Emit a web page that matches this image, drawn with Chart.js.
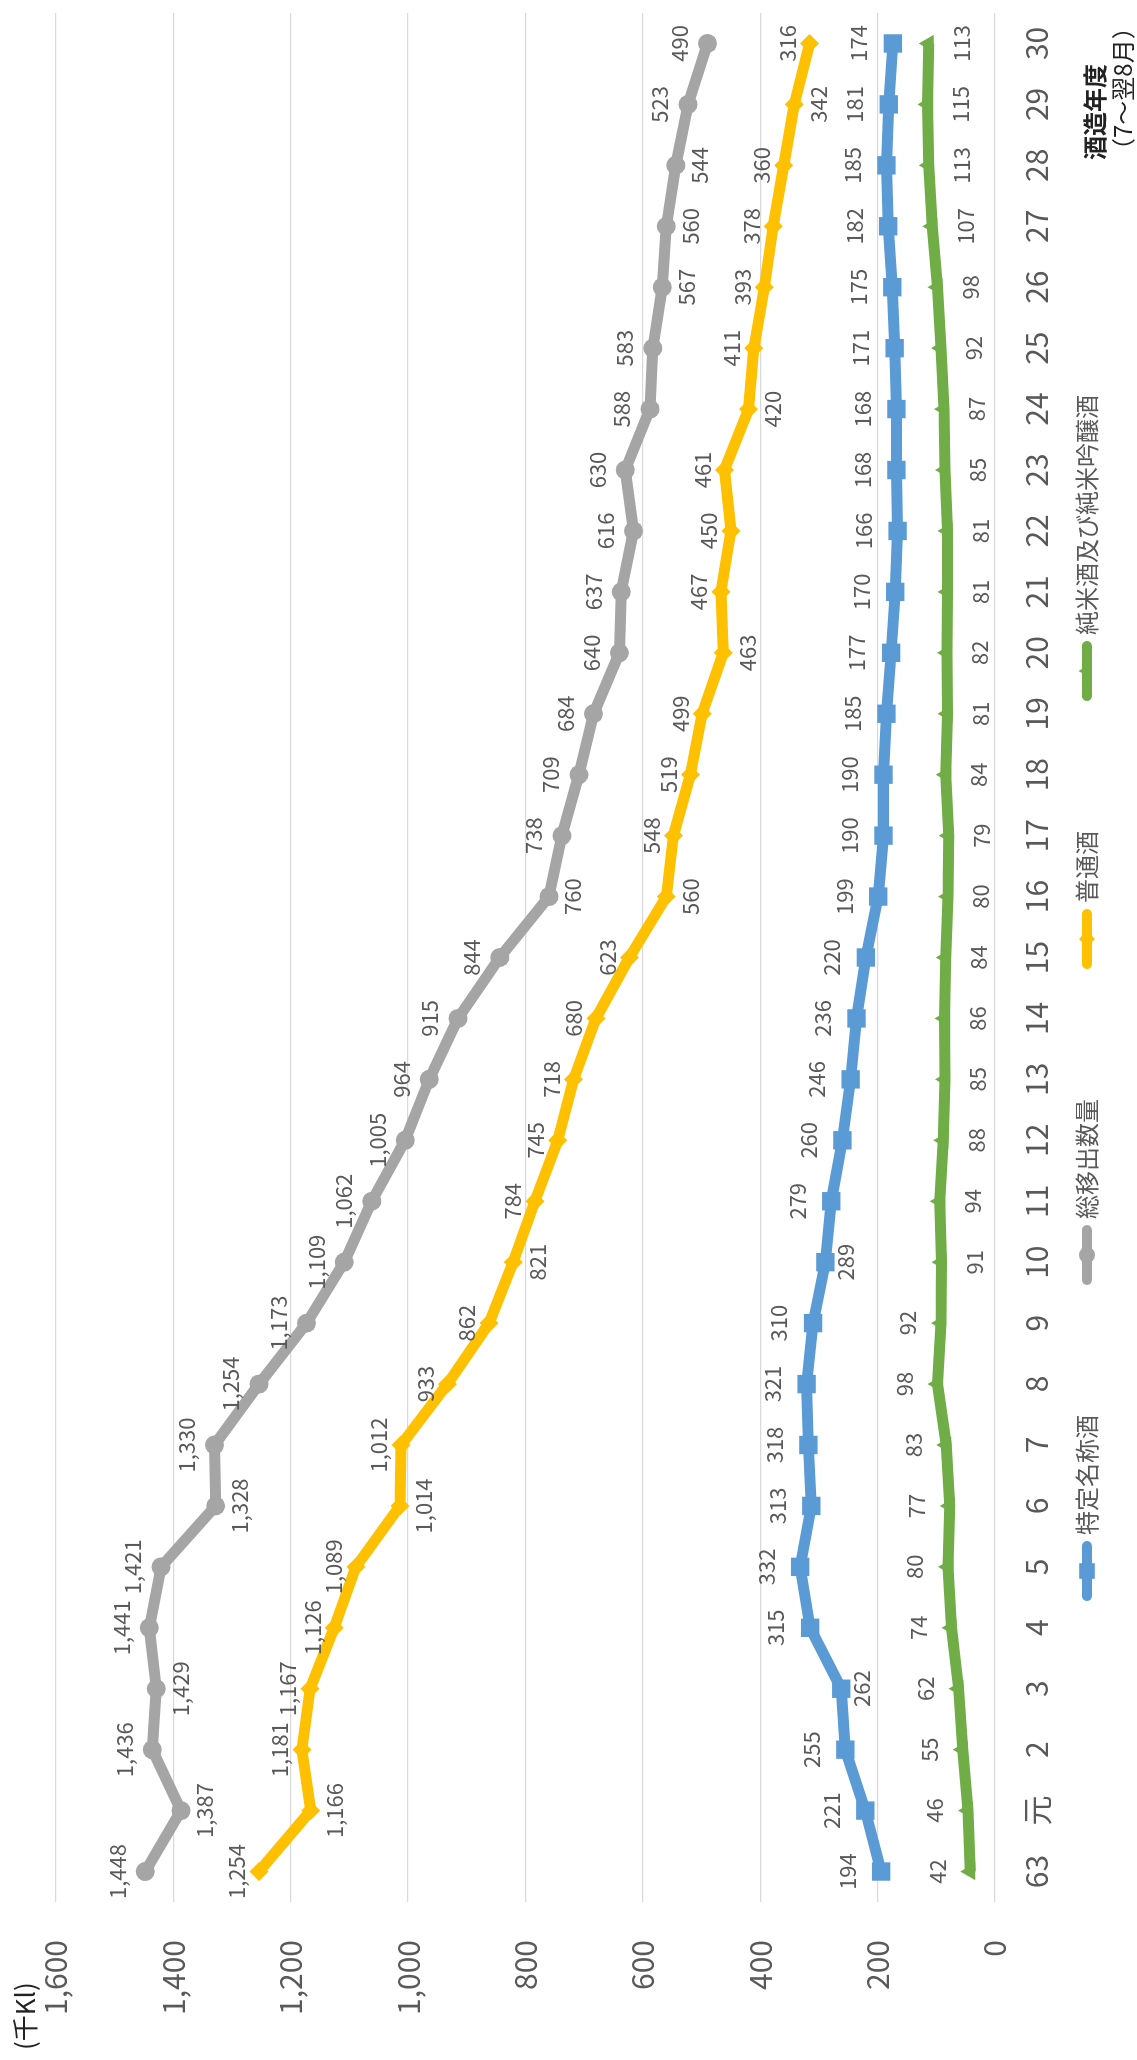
<!DOCTYPE html>
<html lang="ja">
<head>
<meta charset="utf-8">
<title>清酒の移出数量の推移</title>
<script src="https://cdn.jsdelivr.net/npm/chart.js@4.4.1/dist/chart.umd.min.js"></script>
<style>
  html, body { margin: 0; padding: 0; background: #fff; overflow: hidden; }
  /* the chart is drawn landscape and turned a quarter to the left */
  #wrap {
    position: absolute; left: 0; top: 0;
    width: 2060px; height: 1137px;
    transform-origin: 0 0;
    transform: translate(0, 2060px) rotate(-90deg);
  }
</style>
</head>
<body>
<div id="wrap"><canvas id="chart" width="2060" height="1137"></canvas></div>
<script>
// 酒造年度 (昭和63 ～ 平成30)
const years = ['63', '元', '2', '3', '4', '5', '6', '7', '8', '9', '10', '11', '12', '13', '14', '15',
  '16', '17', '18', '19', '20', '21', '22', '23', '24', '25', '26', '27', '28', '29', '30'];

// 千Kl
const tokutei = [194, 221, 255, 262, 315, 332, 313, 318, 321, 310, 289, 279, 260, 246, 236, 220,
  199, 190, 190, 185, 177, 170, 166, 168, 168, 171, 175, 182, 185, 181, 174];
const total = [1448, 1387, 1436, 1429, 1441, 1421, 1328, 1330, 1254, 1173, 1109, 1062, 1005, 964, 915, 844,
  760, 738, 709, 684, 640, 637, 616, 630, 588, 583, 567, 560, 544, 523, 490];
const futsu = [1254, 1166, 1181, 1167, 1126, 1089, 1014, 1012, 933, 862, 821, 784, 745, 718, 680, 623,
  560, 548, 519, 499, 463, 467, 450, 461, 420, 411, 393, 378, 360, 342, 316];
const junmai = [42, 46, 55, 62, 74, 80, 77, 83, 98, 92, 91, 94, 88, 85, 86, 84,
  80, 79, 84, 81, 82, 81, 81, 85, 87, 92, 98, 107, 113, 115, 113];

// which side of the point each value label sits on (a = above, b = below)
const tokuteiSides = 'aaabaaaaaabaaaaaaaaaaaaaaaaaaaa'.split('');
const totalSides   = 'ababaabaaaaaaaaabaaaaaaaaabbbaa'.split('');
const futsuSides   = 'abaaaabaaabaaaaabaaabaaabaaaaba'.split('');
const junmaiSides  = 'aaaaaaaaaabbbbbbbbbbbbbbbbbbbbb'.split('');

const yTicks = [0, 200, 400, 600, 800, 1000, 1200, 1400, 1600];

const FONT = '"Noto Sans CJK JP", "Noto Sans", sans-serif';
const GREY_TEXT = '#595959';

Chart.defaults.font.family = FONT;
Chart.defaults.color = GREY_TEXT;

function series(label, data, sides, color, style, radius, width, gap) {
  return {
    label, data,
    labelSides: sides,
    labelGap: gap,
    borderColor: color,
    backgroundColor: color,
    borderWidth: width,
    borderJoinStyle: 'round',
    pointStyle: style,
    pointRadius: radius,
    pointBackgroundColor: color,
    pointBorderColor: color,
    pointBorderWidth: 0,
    tension: 0,
  };
}

// value labels next to each point
const valueLabels = {
  id: 'valueLabels',
  afterDatasetsDraw(chart) {
    const ctx = chart.ctx;
    ctx.save();
    ctx.font = '22px ' + FONT;
    ctx.fillStyle = GREY_TEXT;
    ctx.textAlign = 'center';
    ctx.textBaseline = 'middle';
    chart.data.datasets.forEach((ds, i) => {
      chart.getDatasetMeta(i).data.forEach((pt, j) => {
        const dy = ds.labelSides[j] === 'a' ? -ds.labelGap[0] : ds.labelGap[1];
        ctx.fillText(ds.data[j].toLocaleString('en-US'), pt.x, pt.y + dy);
      });
    });
    ctx.restore();
  }
};

// legend (line + marker), unit and axis title
const extras = {
  id: 'extras',
  afterDraw(chart) {
    const ctx = chart.ctx;
    ctx.save();

    // unit
    ctx.font = '26px ' + FONT;
    ctx.fillStyle = '#222';
    ctx.textAlign = 'left';
    ctx.textBaseline = 'middle';
    ctx.fillText('(千Kl)', 10, 25);

    // x axis title, two lines, left aligned
    ctx.font = 'bold 24px ' + FONT;
    ctx.fillText('酒造年度', 1900, 1095);
    ctx.font = '24px ' + FONT;
    ctx.fillText('（7～翌8月）', 1898, 1123);

    // legend
    const legendY = 1087;
    let x = 459;
    ctx.font = '24px ' + FONT;
    chart.data.datasets.forEach(ds => {
      ctx.strokeStyle = ds.borderColor;
      ctx.fillStyle = ds.borderColor;
      ctx.lineWidth = 10;
      ctx.lineCap = 'round';
      ctx.beginPath();
      ctx.moveTo(x + 5, legendY);
      ctx.lineTo(x + 55, legendY);
      ctx.stroke();
      Chart.helpers.drawPoint(ctx, {pointStyle: ds.pointStyle, radius: ds.pointRadius * 0.85, rotation: 0, borderWidth: 0}, x + 30, legendY);
      ctx.fillStyle = GREY_TEXT;
      ctx.fillText(ds.label, x + 66, legendY);
      x += 66 + ctx.measureText(ds.label).width + 130;
    });
    ctx.restore();
  }
};

new Chart(document.getElementById('chart'), {
  type: 'line',
  data: {
    labels: years,
    datasets: [
      series('特定名称酒', tokutei, tokuteiSides, '#5B9BD5', 'rect', 13, 11, [34, 20]),
      series('総移出数量', total, totalSides, '#A5A5A5', 'circle', 9.5, 11, [28, 24]),
      series('普通酒', futsu, futsuSides, '#FFC000', 'rectRot', 9.5, 11, [22, 24]),
      series('純米酒及び純米吟醸酒', junmai, junmaiSides, '#70AD47', 'triangle', 10, 11, [33, 33]),
    ]
  },
  options: {
    responsive: false,
    animation: false,
    events: [],
    layout: { padding: { top: 53, right: 0, bottom: 0, left: 0 } },
    plugins: {
      legend: { display: false },
      tooltip: { enabled: false },
    },
    scales: {
      x: {
        offset: true,
        grid: { display: false, drawTicks: false },
        border: { display: false },
        ticks: { font: { size: 30 }, padding: 24, autoSkip: false, maxRotation: 0, color: GREY_TEXT },
        afterFit: s => { s.height = 142; },
      },
      y: {
        min: 0,
        max: 1600,
        afterBuildTicks: s => { s.ticks = yTicks.map(v => ({ value: v })); },
        grid: { color: '#D9D9D9', lineWidth: 1.3, drawTicks: false },
        border: { display: false },
        ticks: {
          font: { size: 30 },
          padding: 38,
          color: GREY_TEXT,
          callback: v => v.toLocaleString('en-US'),
        },
        afterFit: s => { s.width = 158; },
      }
    }
  },
  plugins: [valueLabels, extras]
});
</script>
</body>
</html>
